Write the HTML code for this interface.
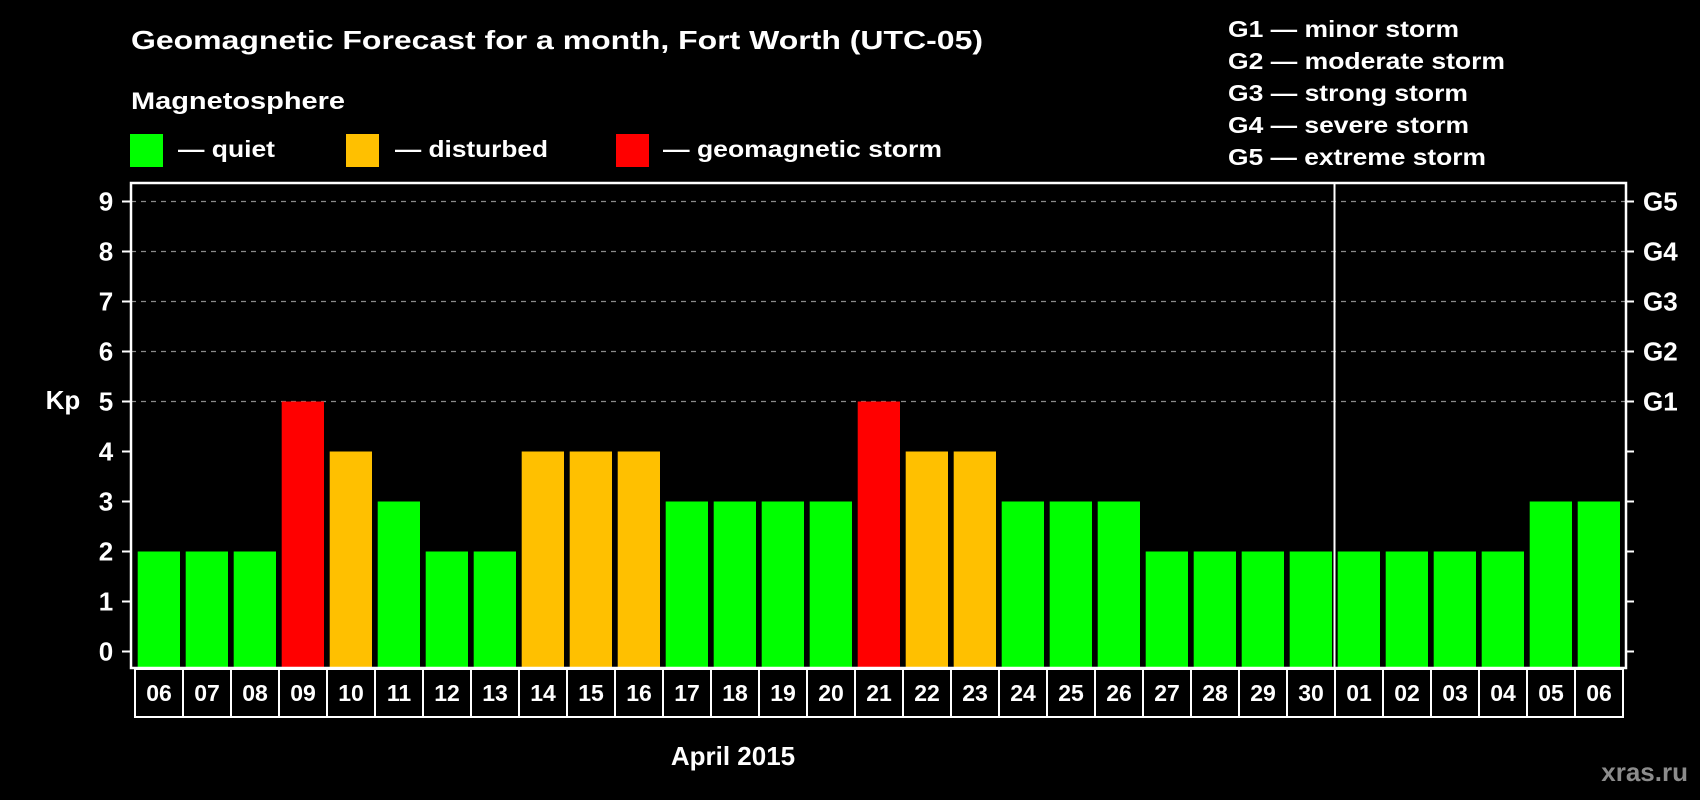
<!DOCTYPE html>
<html><head><meta charset="utf-8"><style>
html,body{margin:0;padding:0;background:#000;}
svg{display:block;font-family:"Liberation Sans",Arial,sans-serif;font-weight:bold;}
</style></head><body>
<svg id="chart" width="1700" height="800" viewBox="0 0 1700 800">
<rect x="0" y="0" width="1700" height="800" fill="#000"/>
<text x="131" y="49" font-size="26" fill="#fff" textLength="852" lengthAdjust="spacingAndGlyphs">Geomagnetic Forecast for a month, Fort Worth (UTC-05)</text>
<text x="131" y="109" font-size="24" fill="#fff" textLength="214" lengthAdjust="spacingAndGlyphs">Magnetosphere</text>
<g>
<rect x="130" y="134" width="33" height="33" fill="#00ff00"/>
<text x="178" y="157" font-size="23" fill="#fff" textLength="97" lengthAdjust="spacingAndGlyphs">— quiet</text>
</g>
<g>
<rect x="346" y="134" width="33" height="33" fill="#ffc000"/>
<text x="395" y="157" font-size="23" fill="#fff" textLength="153" lengthAdjust="spacingAndGlyphs">— disturbed</text>
</g>
<g>
<rect x="616" y="134" width="33" height="33" fill="#ff0000"/>
<text x="663" y="157" font-size="23" fill="#fff" textLength="279" lengthAdjust="spacingAndGlyphs">— geomagnetic storm</text>
</g>
<g font-size="23" fill="#fff">
<text x="1228" y="37" textLength="231" lengthAdjust="spacingAndGlyphs">G1 — minor storm</text>
<text x="1228" y="69" textLength="277" lengthAdjust="spacingAndGlyphs">G2 — moderate storm</text>
<text x="1228" y="101" textLength="240" lengthAdjust="spacingAndGlyphs">G3 — strong storm</text>
<text x="1228" y="133" textLength="241" lengthAdjust="spacingAndGlyphs">G4 — severe storm</text>
<text x="1228" y="165" textLength="258" lengthAdjust="spacingAndGlyphs">G5 — extreme storm</text>
</g>
<text x="63" y="409" font-size="26" fill="#fff" text-anchor="middle">Kp</text>
<text x="733" y="765" font-size="26" fill="#fff" text-anchor="middle">April 2015</text>
<text x="1688" y="781" font-size="26" fill="#8c8c8c" text-anchor="end">xras.ru</text>
<g id="plot"></g>
</svg>
<script>
const days = ["06","07","08","09","10","11","12","13","14","15","16","17","18","19","20","21","22","23","24","25","26","27","28","29","30","01","02","03","04","05","06"];
const kpValues = [2,2,2,5,4,3,2,2,4,4,4,3,3,3,3,5,4,4,3,3,3,2,2,2,2,2,2,2,2,3,3];
const yTicks = [0,1,2,3,4,5,6,7,8,9];
const gLabels = ["G1","G2","G3","G4","G5"];
const gLevels = [5,6,7,8,9];
const monthBreakIndex = 25;

const NS = "http://www.w3.org/2000/svg";
const plot = document.getElementById("plot");
const L = 131, R = 1626, T = 183, B = 668;
const slot = 48;
const y = v => 651.5 - v * 50;
const xs = i => L + i * slot;
function mk(tag, attrs) {
  const e = document.createElementNS(NS, tag);
  for (const k in attrs) e.setAttribute(k, attrs[k]);
  plot.appendChild(e);
  return e;
}
// gridlines
for (const v of yTicks) {
  if (v >= 5) {
    const g = mk("line", {x1: L, x2: R, y1: y(v), y2: y(v), stroke: "#8a8a8a", "stroke-width": 1.2, "stroke-dasharray": "5,5"});
    
    
  }
  const t = mk("line", {x1: L - 9, x2: L, y1: y(v), y2: y(v), stroke: "#fff", "stroke-width": 2});
  
  
  const t2 = mk("line", {x1: R, x2: R + 8, y1: y(v), y2: y(v), stroke: "#fff", "stroke-width": 2});
  
  
  const lb = mk("text", {x: 106, y: y(v) + 9, "font-size": 26, fill: "#fff", "text-anchor": "middle"});
  lb.textContent = v;
  
  
}
gLabels.forEach((g, i) => {
  const lb = mk("text", {x: 1643, y: y(gLevels[i]) + 9, "font-size": 26, fill: "#fff"});
  lb.textContent = g;
  
  
});
// bars
kpValues.forEach((v, i) => {
  const color = v >= 5 ? "#ff0000" : (v >= 4 ? "#ffc000" : "#00ff00");
  const b = mk("rect", {x: xs(i) + 6.7, y: y(v), width: 42.3, height: y(0) - y(v) + 17, fill: color});
  
  
  const box = mk("rect", {x: 135 + i * slot, y: 669, width: slot, height: 48, fill: "none", stroke: "#fff", "stroke-width": 2});
  
  
  const lb = mk("text", {x: 135 + i * slot + slot / 2, y: 701, "font-size": 23, fill: "#fff", "text-anchor": "middle"});
  lb.textContent = days[i];
  
  
});
// month separator
const sx = xs(monthBreakIndex) - 0.5 + 4;
const sep = mk("line", {x1: sx, x2: sx, y1: T, y2: B, stroke: "#fff", "stroke-width": 2});


// frame
const fr = mk("rect", {x: L, y: T, width: R - L, height: B - T, fill: "none", stroke: "#fff", "stroke-width": 2.5});


</script>
</body></html>
